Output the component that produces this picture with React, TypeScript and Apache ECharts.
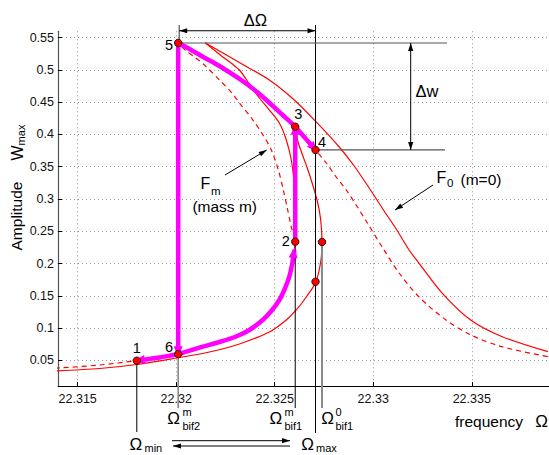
import React, { useEffect, useRef } from "react";
import * as echarts from "echarts";

const FONT = '"Liberation Sans", Arial, Helvetica, sans-serif';

// axis ranges
const xRange = [22.314, 22.33892];
const yRange = [0.01, 0.56];

// F0 (m=0): upper stable branch, from high frequency up to its peak
const f0UpperBranch = [
  [22.338861, 0.06333], [22.336546, 0.08658], [22.334945, 0.11247], [22.333506, 0.15385],
  [22.332326, 0.20034], [22.331819, 0.22096], [22.331196, 0.25195], [22.330552, 0.2814],
  [22.329793, 0.31705], [22.329033, 0.35115], [22.328273, 0.3806], [22.327092, 0.41981],
  [22.325993, 0.45344], [22.324727, 0.48444], [22.323207, 0.51141], [22.322194, 0.52939],
  [22.321469, 0.54225],
];
// F0: inner branch falling from the peak
const f0InnerBranch = [
  [22.321469, 0.54225], [22.32189, 0.53171], [22.322346, 0.52055], [22.322801, 0.51032],
  [22.323207, 0.49994], [22.323713, 0.47824], [22.32422, 0.45654], [22.324727, 0.43794],
  [22.325233, 0.41779], [22.325588, 0.39145], [22.325841, 0.36045], [22.325968, 0.32945],
  [22.326029, 0.2907], [22.326044, 0.23382],
];
// F0: lower branch, turning point at Ω_bif1^0, and the branch rising back
const f0LowerBranch = [
  [22.313835, 0.0334], [22.316114, 0.0373], [22.317989, 0.0435], [22.320015, 0.0536],
  [22.321687, 0.0629], [22.323207, 0.0753], [22.324727, 0.0939], [22.325588, 0.1125],
  [22.326094, 0.128], [22.326601, 0.1481], [22.327092, 0.1718], [22.327346, 0.2055],
  [22.327396, 0.2334], [22.327381, 0.24885], [22.32732, 0.27055], [22.327184, 0.2938],
  [22.32693, 0.3217], [22.326652, 0.34805], [22.326373, 0.3713], [22.32617, 0.3899],
  [22.326029, 0.4116], [22.32574, 0.4209],
];
// Fm (mass m): lower branch, turning point (2) and unstable branch up to the peak (5)
const fmLowerBranch = [
  [22.313835, 0.0376], [22.316114, 0.04271], [22.317989, 0.04938], [22.319154, 0.05434],
  [22.3201, 0.0595], [22.321348, 0.07108], [22.322194, 0.07836], [22.32304, 0.08689],
  [22.323713, 0.09696], [22.324387, 0.11246], [22.324828, 0.12641], [22.325233, 0.14346],
  [22.325486, 0.15896], [22.32574, 0.17957], [22.325892, 0.2008], [22.325993, 0.22096],
  [22.32604, 0.2338], [22.325841, 0.2566], [22.325638, 0.28605], [22.325436, 0.31395],
  [22.325183, 0.34495], [22.324828, 0.37595], [22.324372, 0.40075], [22.323815, 0.42554],
  [22.323207, 0.44879], [22.322852, 0.46352], [22.322194, 0.48444], [22.321434, 0.50769],
  [22.320927, 0.52009], [22.320507, 0.52939], [22.3201, 0.5418],
];
// Fm: upper branch from the peak (5) to high frequency
const fmUpperBranch = [
  [22.3201, 0.5418], [22.320674, 0.53249], [22.321348, 0.52055], [22.322194, 0.50614],
  [22.32304, 0.48955], [22.323713, 0.47514], [22.324387, 0.45856], [22.3254, 0.43019],
  [22.32604, 0.412], [22.3265, 0.39609], [22.32707, 0.376], [22.327614, 0.3558],
  [22.328121, 0.3341], [22.328627, 0.31395], [22.329134, 0.2907], [22.329641, 0.2659],
  [22.330451, 0.2256], [22.331312, 0.18531], [22.332326, 0.1481], [22.333693, 0.11247],
  [22.33496, 0.08921], [22.33653, 0.07108], [22.338861, 0.05558],
];

// magenta sweep paths
const sweep5to6 = [[22.3201, 0.5418], [22.3201, 0.0595]];
const sweep6to1 = [[22.3201, 0.0595], [22.319154, 0.05434], [22.318, 0.0494]];
const sweep6to2 = [
  [22.3201, 0.0595], [22.321348, 0.07108], [22.322194, 0.07836], [22.32304, 0.08689],
  [22.323713, 0.09696], [22.324387, 0.11246], [22.324828, 0.12641], [22.325233, 0.14346],
  [22.325486, 0.15896], [22.32574, 0.17957], [22.325892, 0.2008], [22.325993, 0.22096],
];
const jump2to3 = [[22.32604, 0.2338], [22.32604, 0.412]];
const sweep5to4 = [
  [22.3201, 0.5418], [22.320674, 0.53249], [22.321348, 0.52055], [22.322194, 0.50614],
  [22.32304, 0.48955], [22.323713, 0.47514], [22.324387, 0.45856], [22.3254, 0.43019],
  [22.32604, 0.412], [22.3265, 0.39609], [22.32707, 0.376],
];

// marked points
const markerX = [22.318, 22.3201, 22.3201, 22.32604, 22.32604, 22.32707, 22.32707, 22.3274];
const markerY = [0.0494, 0.0595, 0.5418, 0.2338, 0.412, 0.376, 0.1718, 0.2334];

// characteristic frequencies / amplitudes
const omegaMin = 22.318;
const omegaBif2m = 22.3201;
const omegaBif1m = 22.32604;
const omegaMax = 22.32707;
const omegaBif10 = 22.3274;
const w5 = 0.5418;
const w4 = 0.376;

export default function App() {
  const ref = useRef<HTMLDivElement>(null);
  useEffect(() => {
    document.body.style.margin = "0";
    const el = ref.current!;
    const chart = echarts.init(el, null, { renderer: "svg" });

    const red = (data: number[][], dashed: boolean) => ({
      type: "line", data, symbol: "none", showSymbol: false, smooth: 0.3, silent: true, z: 2,
      lineStyle: { color: "#ff0000", width: 1.2, type: dashed ? [5, 4] : "solid" },
      emphasis: { disabled: true },
    });
    const magenta = (data: number[][]) => ({
      type: "line", data, symbol: "none", showSymbol: false, smooth: 0.3, silent: true, z: 3,
      lineStyle: { color: "#ff00ff", width: 4.5, cap: "butt" },
      emphasis: { disabled: true },
    });

    const axisLabel = (dec: number) => ({
      showMinLabel: false, showMaxLabel: false, color: "#111", fontSize: 12.5, fontFamily: FONT,
      formatter: (v: number) => String(parseFloat(v.toFixed(dec))),
    });
    const splitLine = { show: true, showMinLine: false, showMaxLine: false, lineStyle: { type: [1, 3], color: "#999", width: 1 } };

    chart.setOption({
      animation: false,
      backgroundColor: "#fff",
      grid: { left: 58, right: 0, top: 31.25, bottom: 68.9, containLabel: false, outerBoundsMode: "none" },
      xAxis: {
        type: "value", min: xRange[0], max: xRange[1], splitNumber: 5,
        axisLine: { show: true, onZero: false, lineStyle: { color: "#000", width: 1 } },
        axisTick: { show: true, inside: true, length: 4, lineStyle: { color: "#000" } },
        axisLabel: { ...axisLabel(3), margin: 6 },
        splitLine,
      },
      yAxis: {
        type: "value", min: yRange[0], max: yRange[1], splitNumber: 11,
        axisLine: { show: true, onZero: false, lineStyle: { color: "#555", width: 1.2 } },
        axisTick: { show: true, inside: true, length: 4, lineStyle: { color: "#000" } },
        axisLabel: { ...axisLabel(2), margin: 4 },
        splitLine,
      },
      series: [
        red(f0UpperBranch, false),
        red(f0InnerBranch, false),
        red(f0LowerBranch, false),
        red(fmLowerBranch, true),
        red(fmUpperBranch, true),
        magenta(sweep5to6),
        magenta(sweep6to1),
        magenta(sweep6to2),
        magenta(jump2to3),
        magenta(sweep5to4),
        {
          type: "scatter", z: 6, silent: true, symbol: "circle", symbolSize: 7.5,
          data: markerX.map((x, i) => [x, markerY[i]]),
          itemStyle: { color: "#ff0000", borderColor: "#000", borderWidth: 0.8, opacity: 1 },
          emphasis: { disabled: true },
        },
      ],
    });

    const P = (x: number, y: number) => chart.convertToPixel({ gridIndex: 0 }, [x, y]) as number[];
    const g: any[] = [];
    const line = (x1: number, y1: number, x2: number, y2: number, color = "#000", w = 1, z = 4) =>
      g.push({ type: "line", z, silent: true, shape: { x1, y1, x2, y2 }, style: { stroke: color, lineWidth: w } });
    const head = (tx: number, ty: number, fx: number, fy: number, len: number, hw: number, color: string, z = 4) => {
      const dx = tx - fx, dy = ty - fy;
      const d = Math.hypot(dx, dy) || 1;
      const ux = dx / d, uy = dy / d;
      const bx = tx - ux * len, by = ty - uy * len;
      const nx = -uy, ny = ux;
      g.push({
        type: "polygon", z, silent: true,
        shape: { points: [[tx, ty], [bx + nx * hw, by + ny * hw], [bx - nx * hw, by - ny * hw]] },
        style: { fill: color },
      });
    };
    const arrow = (x1: number, y1: number, x2: number, y2: number, both = false) => {
      line(x1, y1, x2, y2);
      head(x2, y2, x1, y1, 8, 2.6, "#000");
      if (both) head(x1, y1, x2, y2, 8, 2.6, "#000");
    };
    const T = (x: number, y: number, text: string, size: number, align = "center", rot = 0) =>
      g.push({
        type: "text", x, y, z: 7, rotation: rot, silent: true,
        style: {
          text, font: `${size}px ${FONT}`, fill: "#000",
          align, verticalAlign: "middle", textAlign: align, textVerticalAlign: "middle",
        },
      });

    // magenta arrowheads
    const magentaHead = (path: number[][]) => {
      const a = P(path[path.length - 2][0], path[path.length - 2][1]);
      const b = P(path[path.length - 1][0], path[path.length - 1][1]);
      const dx = b[0] - a[0], dy = b[1] - a[1];
      const d = Math.hypot(dx, dy) || 1;
      head(b[0] + (dx / d) * 3, b[1] + (dy / d) * 3, a[0], a[1], 11, 4.5, "#ff00ff", 5);
    };
    [sweep5to6, sweep6to1, sweep6to2, jump2to3, sweep5to4].forEach(magentaHead);

    const top = P(omegaBif2m, yRange[1])[1];
    const p5 = P(omegaBif2m, w5);
    const p4 = P(omegaMax, w4);
    const p1 = P(omegaMin, markerY[0]);
    const p6 = P(omegaBif2m, markerY[1]);
    const p2 = P(omegaBif1m, markerY[3]);
    const pn = P(omegaBif10, markerY[7]);

    // ΔΩ
    line(p5[0] + 1, 25, p5[0] + 1, p5[1], "#333", 1);
    line(p4[0], 25, p4[0], 433, "#000", 1);
    arrow(p5[0] + 1, top - 0.5, p4[0], top - 0.5, true);
    // Δw
    line(p5[0], p5[1], 447, p5[1], "#555", 1.2);
    line(p4[0], p4[1], 445, p4[1], "#555", 1.2);
    arrow(410.7, p5[1], 410.7, p4[1], true);
    // frequency markers below the axis
    line(p1[0], p1[1], p1[0], 432, "#000", 1);
    line(p6[0], p6[1], p6[0], 408, "#8a8a8a", 1.6);
    line(p2[0], p2[1], p2[0], 408, "#000", 1);
    line(pn[0], pn[1], pn[0], 408, "#8a8a8a", 2);
    arrow(172, 440.7, 290, 440.7);
    arrow(290, 446, 173, 446);
    // labels' arrows
    arrow(225, 175, 266.7, 150);
    arrow(433, 185, 395, 210);

    // texts
    T(255.5, 19.5, "ΔΩ", 16.5);
    T(427, 90.5, "Δw", 16.5);
    T(169, 44.7, "5", 14.5);
    T(298.3, 114.3, "3", 14.5);
    T(322, 141.7, "4", 14.5);
    T(285.8, 241, "2", 14.5);
    T(169, 347, "6", 14.5);
    T(136.7, 348, "1", 14.5);
    T(205.5, 183.3, "F", 16);
    T(211, 190.5, "m", 11.5, "left");
    T(224.7, 206, "(mass m)", 15.5);
    T(441.5, 177, "F", 16);
    T(447, 182.5, "0", 11.5, "left");
    T(481, 179, "(m=0)", 15.5);
    T(489, 421.7, "frequency", 15.5);
    T(541.7, 421.7, "Ω", 17);
    T(16.5, 216, "Amplitude", 15.5, "center", Math.PI / 2);
    T(17, 153, "W", 16, "center", Math.PI / 2);
    T(20.5, 135, "max", 11, "center", Math.PI / 2);
    T(173.7, 418.5, "Ω", 17);
    T(182.5, 412, "m", 11, "left");
    T(182.5, 425.8, "bif2", 11, "left");
    T(275.8, 418.5, "Ω", 17);
    T(284.5, 412, "m", 11, "left");
    T(284.5, 425.8, "bif1", 11, "left");
    T(327.5, 418.5, "Ω", 17);
    T(335.5, 411.5, "0", 11, "left");
    T(335.5, 425.8, "bif1", 11, "left");
    T(135.8, 444, "Ω", 17);
    T(144.5, 447.5, "min", 11, "left");
    T(307.5, 444, "Ω", 17);
    T(316, 447.5, "max", 11, "left");

    chart.setOption({ graphic: g });
    return () => chart.dispose();
  }, []);
  return <div ref={ref} style={{ position: "absolute", left: 0, top: 0, width: 549, height: 455, background: "#fff" }} />;
}
